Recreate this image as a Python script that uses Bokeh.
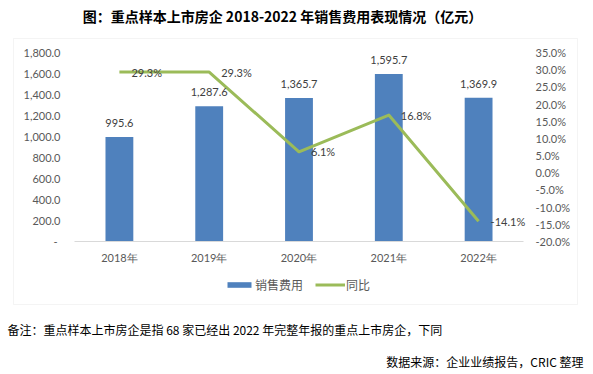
from bokeh.plotting import figure
from bokeh.models import (Range1d, LinearAxis, FixedTicker, CustomJSTickFormatter,
                          ColumnDataSource, LabelSet, Label, Legend, LegendItem, BoxAnnotation)
from bokeh.core.properties import value
from bokeh.embed import file_html
from bokeh.resources import INLINE

# ---- data ----
years = ["2018年", "2019年", "2020年", "2021年", "2022年"]
expense = [995.6, 1287.6, 1365.7, 1595.7, 1369.9]   # 销售费用（亿元）
yoy = [29.3, 29.3, 6.1, 16.8, -14.1]                 # 同比（%）
left_ticks = [0, 200, 400, 600, 800, 1000, 1200, 1400, 1600, 1800]
right_ticks = [-20, -15, -10, -5, 0, 5, 10, 15, 20, 25, 30, 35]

title_text = "图：重点样本上市房企 2018-2022 年销售费用表现情况（亿元）"
note_text = "备注：重点样本上市房企是指 68 家已经出 2022 年完整年报的重点上市房企，下同"
source_text = "数据来源：企业业绩报告，CRIC 整理"
legend_labels = ["销售费用", "同比"]

BAR = "#4F81BD"
LINE = "#9BBB59"
AXTXT = "#595959"
LBLTXT = "#404040"
CJK = "Noto Sans CJK SC"
NUM = "Lato"

# ---- layout (pixels in the 593x374 canvas) ----
W, H = 593, 374
PL, PR, PT, PB = 74, 523, 52, 241        # plot area
BOX = (13, 38, 577, 304)                 # chart box (l, t, r, b)

xs = list(range(len(years)))
ncat = len(years)
xpx = (PR - PL) / ncat                    # px per category
x0 = -0.5 - PL / xpx
x1 = ncat - 0.5 + (W - PR) / xpx
ypx = (PB - PT) / (left_ticks[-1] - left_ticks[0])
y_start = left_ticks[0] - (H - PB) / ypx
y_end = left_ticks[-1] + PT / ypx
rpx = (PB - PT) / (right_ticks[-1] - right_ticks[0])
r_start = right_ticks[0] - (H - PB) / rpx
r_end = right_ticks[-1] + PT / rpx

p = figure(width=W, height=H, x_range=Range1d(x0, x1), y_range=Range1d(y_start, y_end),
           x_axis_location=None, y_axis_location=None,
           output_backend="svg", toolbar_location=None, min_border=0)
p.background_fill_color = "white"
p.border_fill_color = "white"
p.outline_line_color = None
p.grid.visible = False
p.extra_y_ranges = {"pct": Range1d(r_start, r_end)}

# chart box
p.add_layout(BoxAnnotation(left=BOX[0], right=BOX[2], top=H - BOX[1], bottom=H - BOX[3],
                           left_units="screen", right_units="screen",
                           top_units="screen", bottom_units="screen",
                           fill_color=None, fill_alpha=0, line_color="#D9D9D9", line_width=1,
                           level="underlay"))


def style_axis(ax, standoff):
    ax.major_tick_line_color = None
    ax.minor_tick_line_color = None
    ax.major_tick_out = 0
    ax.major_tick_in = 0
    ax.major_label_standoff = standoff
    ax.major_label_text_font = NUM
    ax.major_label_text_font_size = "11px"
    ax.major_label_text_color = AXTXT


xa = LinearAxis(fixed_location=0, bounds=(-0.5, ncat - 0.5), ticker=FixedTicker(ticks=xs),
                major_label_overrides={float(i): y for i, y in zip(xs, years)})
style_axis(xa, 9)
xa.axis_line_color = "#D9D9D9"
p.add_layout(xa, "below")

ya = LinearAxis(fixed_location=-0.5, ticker=FixedTicker(ticks=left_ticks),
                formatter=CustomJSTickFormatter(code="""
    if (Math.abs(tick) < 1e-9) return "-\\u00a0";
    return tick.toLocaleString('en-US', {minimumFractionDigits: 1, maximumFractionDigits: 1});
"""))
style_axis(ya, 14)
ya.axis_line_color = None
p.add_layout(ya, "left")

ra = LinearAxis(y_range_name="pct", fixed_location=ncat - 0.5,
                ticker=FixedTicker(ticks=right_ticks),
                formatter=CustomJSTickFormatter(code="return tick.toFixed(1) + '%';"))
style_axis(ra, 12)
ra.axis_line_color = None
p.add_layout(ra, "right")

src = ColumnDataSource(dict(
    xs=xs, years=years, expense=expense, yoy=yoy,
    exp_text=[f"{v:,.1f}" for v in expense],
    yoy_text=[f"{v:.1f}%" for v in yoy],
))

bars = p.vbar(x="xs", top="expense", bottom=0, width=0.31, source=src,
              fill_color=BAR, line_color=None)
line = p.line(x="xs", y="yoy", source=src, y_range_name="pct",
              line_color=LINE, line_width=3, line_join="round")

p.add_layout(LabelSet(x="xs", y="expense", text="exp_text", source=src,
                      y_offset=14, text_align="center", text_baseline="middle",
                      text_font=value(NUM), text_font_size="11px", text_color=LBLTXT))
p.add_layout(LabelSet(x="xs", y="yoy", text="yoy_text", source=src, y_range_name="pct",
                      x_offset=12, text_align="left", text_baseline="middle",
                      text_font=value(NUM), text_font_size="11px", text_color=LBLTXT))

legend = Legend(items=[LegendItem(label=legend_labels[0], renderers=[bars]),
                       LegendItem(label=legend_labels[1], renderers=[line])],
                location=(224, H - 293), orientation="horizontal",
                glyph_width=30, glyph_height=7, label_standoff=1, spacing=12,
                padding=0, margin=0, border_line_color=None, background_fill_alpha=0,
                label_text_font=CJK, label_text_font_size="12px",
                label_text_color=AXTXT)
p.add_layout(legend)

p.add_layout(Label(x=282, y=H - 15, x_units="screen", y_units="screen", text=title_text,
                   text_align="center", text_baseline="middle",
                   text_font=CJK, text_font_style="bold", text_font_size="14px",
                   text_color="black"))
p.add_layout(Label(x=7, y=H - 329, x_units="screen", y_units="screen", text=note_text,
                   text_align="left", text_baseline="middle",
                   text_font=CJK, text_font_size="12px", text_color="black"))
p.add_layout(Label(x=583, y=H - 361, x_units="screen", y_units="screen", text=source_text,
                   text_align="right", text_baseline="middle",
                   text_font=CJK, text_font_size="12px", text_color="black"))

open("out.html", "w").write(file_html(p, INLINE))
